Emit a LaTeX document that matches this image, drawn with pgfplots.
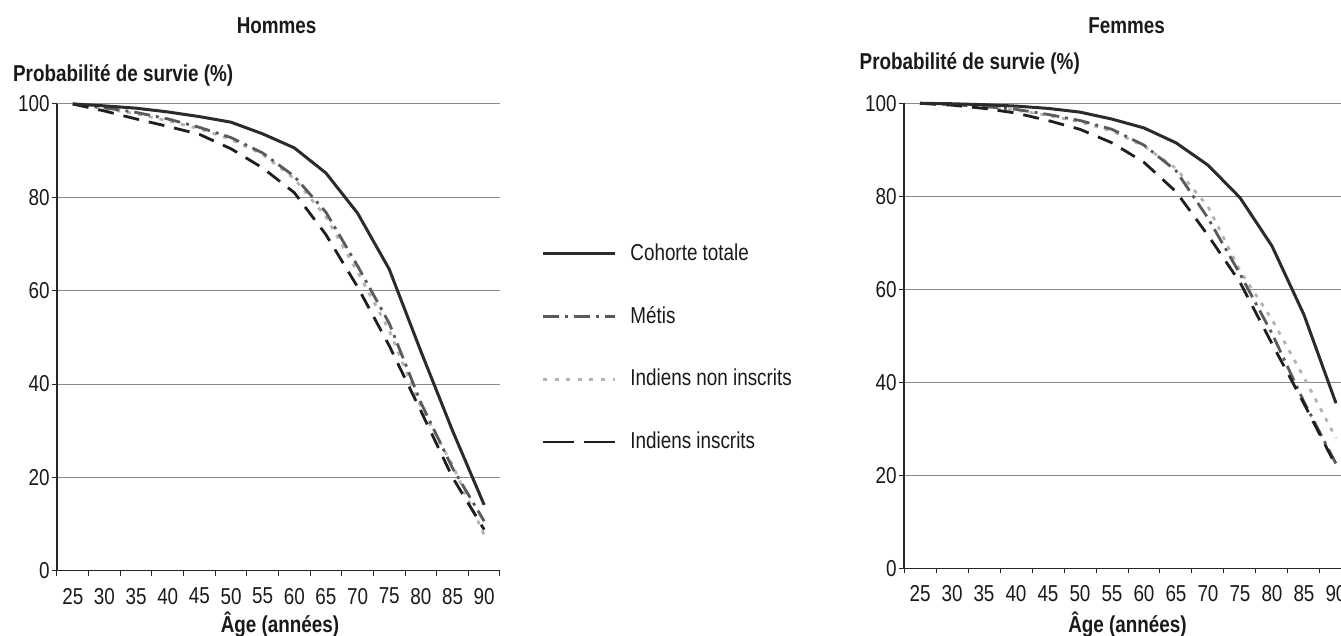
\documentclass[border=0pt]{standalone}
\usepackage{fontspec}
\setmainfont{Liberation Sans}[FakeStretch=0.82]
\usepackage{pgfplots}
\usepackage{pgfplotstable}
\pgfplotsset{compat=1.18}

\definecolor{totc}{HTML}{2B2B2B}
\definecolor{metc}{HTML}{5A5A5A}
\definecolor{nonc}{HTML}{B4B4B4}
\definecolor{insc}{HTML}{1E1E1E}
\definecolor{gridc}{HTML}{8A8A8A}
\definecolor{axisc}{HTML}{262626}
\definecolor{txt}{HTML}{1A1A1A}

% probabilite de survie (%) selon l'age
\pgfplotstableread{
age tot   met   non   ins
25  100   100   100   100
30  99.6  99.2  99.0  98.5
35  99.1  98.2  97.9  96.8
40  98.3  96.8  96.4  95.2
45  97.3  95.0  94.7  93.5
50  96.1  92.8  92.4  90.4
55  93.6  89.5  89.2  86.3
60  90.6  84.5  84.0  81.0
65  85.2  76.8  75.8  72.0
70  76.6  65.3  64.0  60.8
75  64.6  53.0  51.5  48.2
80  47.0  36.0  35.0  34.2
85  30.0  22.0  22.6  20.0
90  14.1  10.6  7.7   8.8
}\hommes

\pgfplotstableread{
age tot   met   non   ins
25  100   100   100   100
30  99.9  99.7  99.7  99.6
35  99.7  99.3  99.2  98.9
40  99.4  98.7  98.5  97.9
45  98.9  97.6  97.4  96.3
50  98.1  96.3  96.0  94.4
55  96.6  94.4  94.0  91.5
60  94.7  91.0  90.8  87.3
65  91.5  85.5  86.0  81.0
70  86.7  75.3  77.8  71.6
75  79.7  63.3  64.0  61.5
80  69.3  50.5  53.5  48.3
85  54.5  35.8  41.0  35.4
90  35.5  22.5  28.0  22.0
}\femmes

\tikzset{
  tot/.style={totc, line width=1.5pt, line join=round},
  met/.style={metc, line width=1.4pt, dash pattern=on 8pt off 3pt on 1.5pt off 3pt},
  non/.style={nonc, line width=1.4pt, dash pattern=on 2pt off 3.5pt},
  ins/.style={insc, line width=1.4pt, dash pattern=on 8pt off 5pt},
}

\pgfplotsset{
  survie/.style={
    scale only axis, clip=false,
    axis lines=left, axis line style={-, draw=axisc, line width=0.6pt},
    xmin=22.5, xmax=92.5, ymin=0, ymax=100,
    xtick={25,30,...,90}, minor xtick={22.5,27.5,...,92.5},
    ytick={0,20,...,100},
    major x tick style={draw=none},
    tick align=outside, major tick length=2.5pt, minor tick length=2.5pt,
    tick style={axisc, line width=0.5pt},
    ymajorgrids, grid style={gridc, line width=0.5pt},
    tick label style={font=\fontsize{11.5}{13}\selectfont, text=txt},
    yticklabel style={inner xsep=1pt},
    xticklabel style={inner ysep=6pt},
    /pgf/number format/assume math mode=true,
  },
}

\begin{document}
\begin{tikzpicture}
\useasboundingbox (0,0) rectangle (670.5pt,318pt);
\clip (0,0) rectangle (670.5pt,318pt);

\begin{axis}[survie,
  at={(28.5pt,32.65pt)}, anchor=south west,
  width=221.5pt, height=233.35pt,
  legend image code/.code={\draw[#1] (0pt,0pt) -- (36pt,0pt);},
  legend cell align=left,
  legend style={draw=none, fill=none, anchor=north west, at={(1.0926,0.7107)},
    inner xsep=0pt, inner ysep=0pt, row sep=16.85pt, column sep=5pt,
    nodes={inner sep=2pt, text height=8.5pt, text depth=2pt},
    font=\fontsize{11.5}{13}\selectfont, text=txt},
]
\addlegendimage{tot}\addlegendentry{Cohorte totale}
\addlegendimage{met}\addlegendentry{Métis}
\addlegendimage{non, dash pattern=on 2pt off 3.8pt}\addlegendentry{Indiens non inscrits}
\addlegendimage{ins, dash pattern=on 15.5pt off 5pt}\addlegendentry{Indiens inscrits}
\addplot[non, forget plot] table[x=age, y=non] {\hommes};
\addplot[met, forget plot] table[x=age, y=met] {\hommes};
\addplot[ins, forget plot] table[x=age, y=ins] {\hommes};
\addplot[tot, forget plot] table[x=age, y=tot] {\hommes};
\end{axis}

\begin{axis}[survie,
  at={(452pt,33.85pt)}, anchor=south west,
  width=224pt, height=232.5pt,
]
\addplot[non] table[x=age, y=non] {\femmes};
\addplot[met] table[x=age, y=met] {\femmes};
\addplot[ins] table[x=age, y=ins] {\femmes};
\addplot[tot] table[x=age, y=tot] {\femmes};
\end{axis}

\begin{scope}[every node/.style={inner sep=0pt, text=txt, font=\fontsize{11.5}{13}\selectfont\bfseries}]
\node[anchor=base] at (138.3pt,301.35pt) {Hommes};
\node[anchor=base] at (563.3pt,301.35pt) {Femmes};
\node[anchor=base west] at (6.35pt,277.15pt) {Probabilité de survie (\%)};
\node[anchor=base west] at (429.65pt,283pt) {Probabilité de survie (\%)};
\node[anchor=base] at (140pt,1.5pt) {Âge (années)};
\node[anchor=base] at (563.75pt,1.5pt) {Âge (années)};
\end{scope}
\end{tikzpicture}
\end{document}
